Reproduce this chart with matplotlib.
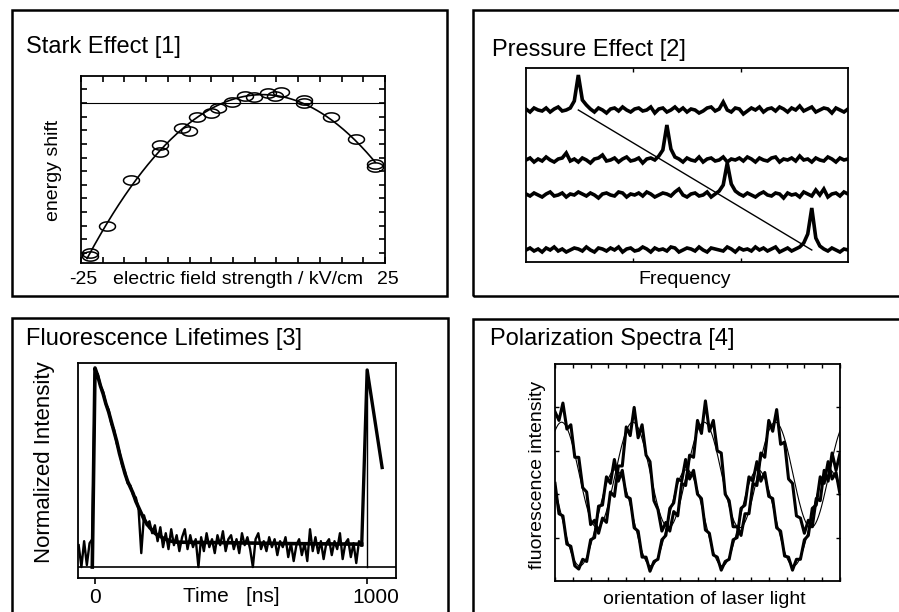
import numpy as np
import matplotlib
matplotlib.use("Agg")
import matplotlib.pyplot as plt
from matplotlib.patches import Rectangle
from matplotlib.transforms import ScaledTranslation

plt.rcParams['font.family'] = ['Liberation Sans', 'DejaVu Sans']

W, H = 899, 612

##############################
# Data
##############################

# Stark effect: energy shift vs field (kV/cm), arbitrary units
stark_x = [-23.6, -23.6, -20.8, -16.7, -12.0, -12.0, -8.4, -7.2, -6.0, -3.7, -2.4, -0.1,
           2.0, 3.5, 5.8, 6.9, 7.9, 11.6, 11.6, 16.2, 20.3, 23.4, 23.4]
stark_y = [0.0, -0.2, 2.0, 5.37, 7.44, 7.93, 9.15, 8.95, 9.95, 10.24, 10.66, 11.05,
           11.54, 11.46, 11.71, 11.54, 11.78, 11.22, 11.02, 10.0, 8.34, 6.51, 6.34]
stark_zero = 11.02

# Pressure effect: 4 spectra (baseline + trace), peaks shift with pressure
press_base = [15.3, 10.3, 6.8, 1.3]
press_peak = [16.25, 43.75, 62.5, 88.75]
press_1 = [0.1, -0.2, 0.2, 0.0, -0.1, 0.2, -0.2, 0.1, 0.3, -0.1,
           0.0, 0.2, 0.9, 3.5, 1.0, 0.5, 0.1, -0.2, 0.2, 0.0,
           -0.3, 0.1, 0.2, -0.1, 0.3, 0.0, -0.2, 0.1, 0.2, -0.1,
           0.0, 0.3, -0.3, 0.1, 0.2, -0.2, 0.0, 0.3, -0.1, 0.2,
           -0.2, 0.1, 0.0, -0.3, -0.1, 0.2, 0.3, -0.1, 0.1, 0.8,
           0.0, -0.2, 0.2, 0.1, -0.4, -0.1, 0.2, 0.0, 0.3, -0.2,
           0.1, 0.2, -0.1, 0.3, 0.1, -0.2, 0.2, 0.0, 0.4, -0.1,
           0.1, 0.3, -0.2, 0.0, 0.2, 0.1, -0.3, 0.2, 0.0, -0.2, 0.1]
press_2 = [0.0, 0.2, -0.2, 0.1, -0.1, 0.3, 0.0, -0.2, 0.1, 0.2,
           0.7, -0.1, 0.1, -0.2, 0.2, 0.0, -0.3, 0.1, 0.2, 0.5,
           -0.1, 0.0, 0.2, -0.2, 0.1, 0.3, -0.1, 0.0, 0.2, -0.3,
           0.1, 0.2, 0.0, 0.4, 1.0, 3.5, 1.1, 0.3, 0.1, -0.2,
           0.2, 0.0, -0.1, 0.3, -0.2, 0.1, 0.2, -0.1, 0.0, 0.3,
           -0.2, 0.1, 0.0, 0.2, -0.1, 0.3, 0.1, -0.2, 0.2, 0.0,
           -0.1, 0.2, 0.3, -0.2, 0.1, 0.0, 0.2, -0.1, 0.4, 0.0,
           0.1, -0.2, 0.2, 0.0, -0.1, 0.3, 0.1, -0.2, 0.2, 0.0, 0.1]
press_3 = [0.1, -0.1, 0.2, 0.0, -0.2, 0.1, 0.3, -0.1, 0.0, 0.2,
           -0.2, 0.1, 0.0, 0.3, 0.1, -0.1, 0.2, 0.0, -0.3, 0.1,
           0.2, 0.0, -0.1, 0.3, 0.2, -0.2, 0.1, 0.0, 0.2, -0.1,
           0.3, 0.1, -0.2, 0.0, 0.2, 0.1, -0.1, 0.3, 0.6, 0.0,
           -0.2, 0.1, 0.2, -0.1, 0.0, 0.3, -0.2, 0.1, 0.4, 1.0,
           3.2, 1.1, 0.4, 0.1, -0.1, 0.2, 0.0, -0.2, 0.1, 0.3,
           0.0, -0.1, 0.2, 0.1, -0.3, 0.2, 0.0, 0.1, -0.2, 0.3,
           0.1, -0.1, 0.5, 0.0, 0.6, -0.2, 0.1, 0.2, -0.1, 0.3, 0.1]
press_4 = [0.0, 0.2, -0.1, 0.1, -0.2, 0.2, 0.0, 0.3, -0.1, 0.1,
           -0.2, 0.0, 0.2, 0.1, -0.1, 0.3, 0.0, -0.2, 0.2, 0.1,
           -0.1, 0.2, 0.0, 0.3, -0.2, 0.1, 0.2, -0.1, 0.0, 0.3,
           0.1, -0.2, 0.2, 0.0, 0.1, -0.1, 0.3, 0.2, -0.2, 0.0,
           0.2, 0.1, -0.1, 0.3, 0.0, -0.2, 0.2, 0.1, 0.0, -0.1,
           0.3, 0.1, -0.2, 0.2, 0.0, 0.1, -0.1, 0.3, 0.0, 0.2,
           -0.1, 0.1, 0.3, -0.2, 0.0, 0.2, -0.1, 0.1, 0.3, 0.7,
           1.6, 4.2, 1.2, 0.4, 0.1, -0.1, 0.2, 0.0, -0.2, 0.1, 0.0]
press_traces = [press_1, press_2, press_3, press_4]

# Fluorescence lifetimes: time (ns) every 10 ns from -60, normalized intensity
fluor_data = [0.11, 0.00, 0.13, 0.01, 0.12, 0.14, 0.97, 0.97, 0.91, 0.88,
              0.82, 0.79, 0.72, 0.69, 0.62, 0.58, 0.51, 0.48, 0.42, 0.41,
              0.36, 0.35, 0.29, 0.07, 0.26, 0.21, 0.23, 0.17, 0.21, 0.13,
              0.20, 0.10, 0.17, 0.09, 0.19, 0.11, 0.16, 0.08, 0.15, 0.19,
              0.09, 0.16, 0.10, 0.14, 0.00, 0.15, 0.08, 0.17, 0.10, 0.14,
              0.07, 0.16, 0.11, 0.18, 0.08, 0.14, 0.16, 0.09, 0.14, 0.07,
              0.17, 0.11, 0.15, 0.09, 0.00, 0.14, 0.17, 0.09, 0.13, 0.08,
              0.15, 0.10, 0.14, 0.06, 0.13, 0.10, 0.15, 0.05, 0.12, 0.03,
              0.11, 0.14, 0.06, 0.12, 0.03, 0.19, 0.08, 0.15, 0.07, 0.13,
              0.04, 0.12, 0.14, 0.06, 0.13, 0.09, 0.17, 0.04, 0.12, 0.14,
              0.05, 0.12, 0.02, 0.13, 0.11]
fluor_t = np.arange(-60, -60 + 10 * len(fluor_data), 10)
fit_t = [-10, 0, 10, 20, 30, 40, 50, 60, 70, 80, 90, 100, 110, 120, 130, 140, 150,
         160, 170, 180, 190, 200, 210, 220, 230, 240, 250, 260, 270, 280, 290, 300,
         500, 700, 980]
fit_I = [0.0, 1.0, 0.96, 0.91, 0.87, 0.82, 0.78, 0.73, 0.68, 0.63, 0.57, 0.52, 0.47,
         0.43, 0.40, 0.37, 0.33, 0.30, 0.27, 0.24, 0.22, 0.20, 0.185, 0.17, 0.16,
         0.155, 0.145, 0.14, 0.135, 0.13, 0.127, 0.125, 0.122, 0.118, 0.115]
pulse2_t = [980, 990, 1000, 1055]
pulse2_I = [0.11, 0.55, 0.99, 0.50]
pulse2_fit_t = [1000, 1000]
pulse2_fit_I = [0.0, 0.99]

# Polarization spectra: orientation (deg) every 10 deg, intensity (a.u.)
pol_x = [7.8, 7.4, 8.2, 7.0, 7.2, 5.7, 5.7, 4.3, 4.1, 2.6,
         2.8, 2.2, 2.9, 2.7, 4.1, 3.9, 5.3, 5.3, 7.1, 6.7,
         8.0, 6.6, 7.2, 5.8, 5.5, 3.7, 3.3, 2.3, 2.7, 2.3,
         3.2, 3.0, 4.5, 4.4, 5.8, 5.7, 7.4, 6.8, 8.3, 6.9,
         7.4, 6.0, 5.9, 4.0, 3.7, 2.5, 2.5, 2.1, 3.1, 3.1,
         4.5, 4.4, 5.9, 5.7, 7.4, 6.9, 7.9, 6.3, 6.4, 4.7,
         4.5, 3.0, 2.9, 2.2, 2.8, 2.5, 3.8, 3.7, 5.1, 4.6,
         5.9, 5.1, 5.9]
pol_y = [4.5, 3.1, 3.0, 1.7, 1.6, 0.7, 0.55, 1.0, 0.9, 1.9,
         2.0, 3.45, 3.5, 4.8, 4.5, 5.6, 4.6, 5.1, 3.9, 3.8,
         2.45, 2.3, 1.1, 1.1, 0.45, 0.9, 1.0, 1.9, 2.1, 3.35,
         3.6, 4.7, 4.6, 5.6, 4.7, 5.1, 4.0, 3.8, 2.35, 2.2,
         1.2, 1.1, 0.5, 0.9, 1.0, 1.9, 2.0, 3.35, 3.5, 4.8,
         4.6, 5.5, 4.6, 5.0, 3.9, 3.8, 2.45, 2.3, 1.15, 1.1,
         0.5, 1.0, 1.0, 1.9, 2.1, 3.35, 3.5, 4.8, 4.5, 5.5,
         4.7, 5.0, 4.0]
pol_angle = np.arange(0, 10 * len(pol_x), 10)


def px(x, y):
    return x / W, 1 - y / H


def box(l, t, r, b):
    return [l / W, 1 - b / H, (r - l) / W, (b - t) / H]


def cos2_fit(ang, vals):
    # least squares fit of a + b cos(2a) + c sin(2a)
    a = np.radians(ang)
    M = np.column_stack([np.ones_like(a), np.cos(2 * a), np.sin(2 * a)])
    coef = np.linalg.lstsq(M, np.array(vals), rcond=None)[0]
    aa = np.radians(np.linspace(0, ang[-1], 400))
    return np.degrees(aa), coef[0] + coef[1] * np.cos(2 * aa) + coef[2] * np.sin(2 * aa)


fig = plt.figure(figsize=(W / 100, H / 100), dpi=100)

# panel frames
for l, t, r, b in [(12, 10, 447, 296), (473, 10, 910, 296),
                   (12, 318, 448, 620), (473, 319, 910, 620)]:
    fig.add_artist(Rectangle((l / W, 1 - b / H), (r - l) / W, (b - t) / H,
                             transform=fig.transFigure, fill=False, lw=1.8, color='black'))

title_fs = 17
label_fs = 14

##############################
# Stark effect
##############################
ax1 = fig.add_axes(box(81, 76, 385, 263))
theta = np.linspace(0, 2 * np.pi, 60)
ellipse = np.column_stack([np.cos(theta), 0.58 * np.sin(theta)])
ax1.plot(stark_x, stark_y, linestyle='none', marker=ellipse, markersize=11.5,
         markerfacecolor='none', markeredgecolor='black', markeredgewidth=1.1)
coef = np.polyfit(stark_x, stark_y, 2)
xs = np.linspace(-24, 23.4, 200)
ax1.plot(xs, np.polyval(coef, xs), color='black', lw=1.2)
ax1.axhline(stark_zero, color='black', lw=0.8)
ax1.set_xlim(-25, 25)
ax1.set_ylim(-0.73, 12.98)
ax1.set_xticks(np.linspace(-25, 25, 15))
ax1.set_xticklabels([''] * 15)
ax1.set_yticks(range(0, 13))
ax1.set_yticklabels([])
ax1.tick_params(direction='in', length=4, width=1.2, top=True, right=True)
fig.text(*px(26, 47), 'Stark Effect [1]', fontsize=title_fs, va='center', ha='left')
fig.text(*px(53, 170), 'energy shift', fontsize=label_fs, rotation=90, va='center', ha='center')
fig.text(*px(83, 280), '-25', fontsize=label_fs, va='center', ha='center')
fig.text(*px(388, 280), '25', fontsize=label_fs, va='center', ha='center')
fig.text(*px(238, 280), 'electric field strength / kV/cm', fontsize=label_fs, va='center', ha='center')

##############################
# Pressure effect
##############################
ax2 = fig.add_axes(box(526, 68, 848, 262))
freq = np.linspace(0, 100, len(press_1))
for base, tr in zip(press_base, press_traces):
    ax2.plot(freq, base + np.array(tr), color='black', lw=2.6, solid_joinstyle='miter')
ax2.plot([press_peak[0], press_peak[-1]], [press_base[0], press_base[-1]], color='black', lw=1.0)
ax2.set_xlim(0, 100)
ax2.set_ylim(0.1, 19.5)
ax2.set_xticks([100 / 3, 200 / 3])
ax2.set_xticklabels([])
ax2.set_yticks([])
ax2.tick_params(direction='in', length=3, width=1.0, top=True)
fig.text(*px(492, 50), 'Pressure Effect [2]', fontsize=title_fs, va='center', ha='left')
fig.text(*px(685, 280), 'Frequency', fontsize=label_fs, va='center', ha='center')

##############################
# Fluorescence lifetimes
##############################
ax3 = fig.add_axes(box(78, 363, 396, 578))
ax3.axhline(0, color='black', lw=1.2)
ax3.plot(fluor_t, fluor_data, color='black', lw=1.7)
ax3.plot(fit_t, fit_I, color='black', lw=2.6)
ax3.plot(pulse2_t, pulse2_I, color='black', lw=2.4)
ax3.plot(pulse2_fit_t, pulse2_fit_I, color='black', lw=1.0)
ax3.set_xlim(-62.5, 1106)
ax3.set_ylim(-0.055, 1.025)
ax3.set_xticks([0, 1000])
ax3.set_xticklabels(['0', '1000'], fontsize=15)
ax3.set_yticks([])
ax3.tick_params(direction='out', length=4, width=1.2, pad=3)
lab = ax3.get_xticklabels()[1]
lab.set_transform(lab.get_transform() + ScaledTranslation(0.09, 0, fig.dpi_scale_trans))
fig.text(*px(26, 339), 'Fluorescence Lifetimes [3]', fontsize=title_fs, va='center', ha='left')
fig.text(*px(45, 462), 'Normalized Intensity', fontsize=16, rotation=90, va='center', ha='center')
fig.text(*px(231, 596), 'Time   [ns]', fontsize=15, va='center', ha='center')

##############################
# Polarization spectra
##############################
ax4 = fig.add_axes(box(555, 364, 840, 581))
for vals in [pol_x, pol_y]:
    ax4.plot(pol_angle, vals, color='black', lw=2.2)
    fa, fv = cos2_fit(pol_angle, vals)
    ax4.plot(fa, fv, color='black', lw=0.8)
ax4.set_xlim(0, 720)
ax4.set_ylim(0, 10)
ax4.set_xticks(np.arange(0, 721, 45))
ax4.set_xticklabels([])
ax4.set_yticks([2, 4, 6, 8])
ax4.set_yticklabels([])
ax4.tick_params(direction='in', length=3, width=1.0, top=True, right=True)
fig.text(*px(490, 339), 'Polarization Spectra [4]', fontsize=title_fs, va='center', ha='left')
fig.text(*px(538, 475), 'fluorescence intensity', fontsize=label_fs, rotation=90, va='center', ha='center')
fig.text(*px(704, 599), 'orientation of laser light', fontsize=label_fs, va='center', ha='center')

for ax in [ax1, ax2, ax3, ax4]:
    for s in ax.spines.values():
        s.set_linewidth(1.3)

fig.savefig('out.png', dpi=100)
